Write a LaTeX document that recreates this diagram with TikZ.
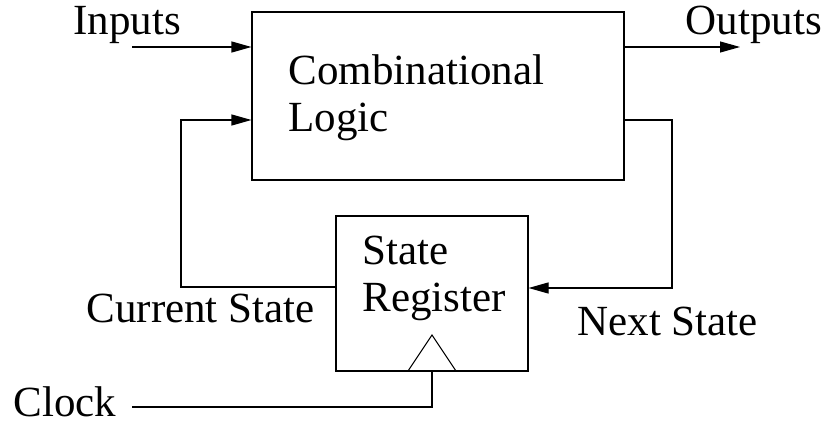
\documentclass[tikz,border=0pt]{standalone}
\usepackage{fontspec}
\setmainfont{Liberation Serif}
\usetikzlibrary{arrows.meta}
\begin{document}
\begin{tikzpicture}[x=1pt,y=-1pt,
  line width=1.1pt,
  lbl/.style={anchor=base west,inner sep=0pt,font=\fontsize{43pt}{47pt}\selectfont},
  blk/.style={draw,rectangle,inner sep=0pt},
  arr/.style={-{Triangle[length=20pt,width=11pt]}}]
\useasboundingbox (0,0) rectangle (823,425);
% boxes
\node[blk,minimum width=372pt,minimum height=168pt] (cl) at (438,96) {};
\node[blk,minimum width=192pt,minimum height=155pt] (sr) at (432,293.5) {};
% box texts
\node[lbl] (t1) at (288,85) {Combinational};
\node[lbl] (t2) at (288,132) {Logic};
\node[lbl] (t3) at (362,265) {State};
\node[lbl] (t4) at (362,312) {Register};
% labels
\node[lbl] (inp) at (73,35) {Inputs};
\node[lbl] (outp) at (685,35) {Outputs};
\node[lbl] (cur) at (86,323) {Current State};
\node[lbl] (nxt) at (577,335) {Next State};
\node[lbl] (clk) at (13,416) {Clock};
% clock triangle
\coordinate (ta) at (408,371);
\coordinate (tb) at (432,335);
\coordinate (tc) at (456,371);
\draw (ta) -- (tb) -- (tc);
% connectors
\coordinate (inS) at (132,47);
\coordinate (outE) at (740,47);
\coordinate (lc) at (181,120);
\coordinate (rc) at (672,120);
\coordinate (ck) at (132,407);
\draw[arr] (inS) -- (cl.west |- inS);
\draw[arr] (cl.east |- outE) -- (outE);
\draw[arr] (sr.west |- 0,287) -| (lc) -- (cl.west |- lc);
\draw[arr] (cl.east |- rc) -| (672,288) -- (sr.east |- 0,288);
\draw (ck) -| (sr.south);
\end{tikzpicture}
\end{document}
